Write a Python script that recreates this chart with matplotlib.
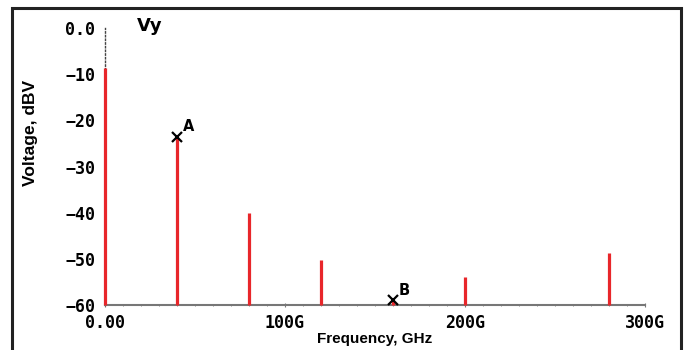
import matplotlib
matplotlib.use("Agg")
import matplotlib.pyplot as plt
from matplotlib.patches import Rectangle
from matplotlib.ticker import MultipleLocator

# spectrum lines
freq_ghz = [0, 40, 80, 120, 160, 200, 280]
level_dbv = [-8.7, -23.6, -40.0, -50.2, -59.0, -53.9, -48.7]

# cursor markers
marker_names = ["A", "B"]
marker_freq = [40, 160]
marker_level = [-23.6, -59.0]

y_ticks = [0, -10, -20, -30, -40, -50, -60]
y_tick_labels = ["0.0", "\u221210", "\u221220", "\u221230", "\u221240", "\u221250", "\u221260"]
x_ticks = [0, 100, 200, 300]
x_tick_labels = ["0.00", "100G", "200G", "300G"]

W, H = 693, 350
fig = plt.figure(figsize=(W / 100, H / 100), dpi=100)
ax = fig.add_axes([105 / W, 1 - 305 / H, (645 - 105) / W, (305 - 28) / H])

ax.vlines(freq_ghz, -60, level_dbv, color="#e8262a", linewidth=2.3, zorder=3, clip_on=False)
ax.plot(marker_freq, marker_level, "x", color="black", markersize=7, mew=1.6, zorder=4)
for name, f, v in zip(marker_names, marker_freq, marker_level):
    ax.annotate(name, (f, v), xytext=(4, 4), textcoords="offset points",
                fontsize=10.5, fontweight="bold", family="DejaVu Sans", zorder=5)

ax.set_xlim(0, 300)
ax.set_ylim(-60, 0)

for s in ["top", "right"]:
    ax.spines[s].set_visible(False)
ax.spines["left"].set_linestyle(":")
ax.spines["left"].set_color("#444444")
ax.spines["left"].set_linewidth(1)
ax.spines["bottom"].set_color("#777777")
ax.spines["bottom"].set_linewidth(1.5)

mono = "DejaVu Sans Mono"
ax.set_yticks(y_ticks)
ax.set_yticklabels(y_tick_labels, family=mono, fontweight="bold", fontsize=12)
ax.set_xticks(x_ticks)
ax.set_xticklabels(x_tick_labels, family=mono, fontweight="bold", fontsize=12)
ax.xaxis.set_minor_locator(MultipleLocator(10))
ax.tick_params(axis="y", length=0, pad=7)
ax.tick_params(axis="x", which="major", length=3, direction="inout", color="#777777", pad=5)
ax.tick_params(axis="x", which="minor", length=2, direction="inout", color="#777777")

ax.set_ylabel("Voltage, dBV", fontsize=12.5, fontweight="bold", family="Liberation Sans")
ax.yaxis.set_label_coords(-(105 - 38) / (645 - 105), 0.62)
ax.set_xlabel("Frequency, GHz", fontsize=11, fontweight="bold", family="Liberation Sans", labelpad=0)

fig.text(137 / W, 1 - 26 / H, "Vy", fontsize=13, fontweight="bold", family="DejaVu Sans", va="center")

# frame round the plot window (bottom edge is cut off)
frame = Rectangle((12 / W, -0.05), (681 - 12) / W, 1.05 - 8 / H, transform=fig.transFigure,
                  fill=False, edgecolor="#222222", linewidth=2.2, clip_on=False)
fig.add_artist(frame)

fig.savefig("out.png", dpi=100)
